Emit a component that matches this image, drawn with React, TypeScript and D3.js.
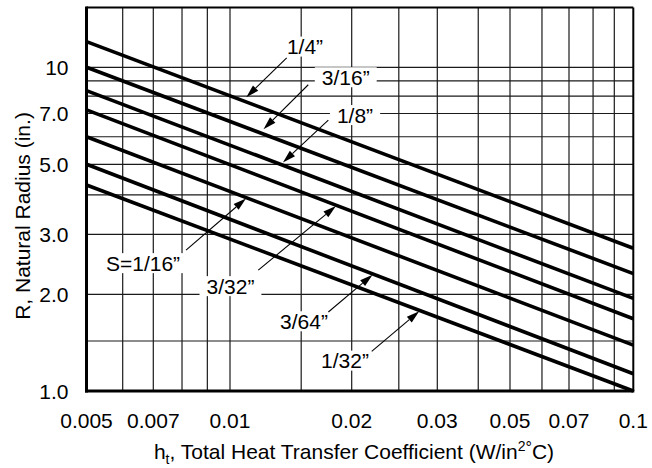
import React, { useEffect, useRef } from "react";
import * as d3 from "d3";

const W = 652;
const H = 468;

// Axis ticks and grid
const xTickValues = [0.005, 0.007, 0.01, 0.02, 0.03, 0.05, 0.07, 0.1];
const xTickLabels = ["0.005", "0.007", "0.01", "0.02", "0.03", "0.05", "0.07", "0.1"];
const xGridValues = [0.006, 0.007, 0.008, 0.009, 0.01, 0.015, 0.02, 0.025, 0.03, 0.04, 0.05, 0.06, 0.07, 0.08, 0.09];
const yTickValues = [1, 2, 3, 5, 7, 10];
const yTickLabels = ["1.0", "2.0", "3.0", "5.0", "7.0", "10"];
const yGridValues = [1.5, 2, 3, 4, 5, 6, 7, 8, 9, 10];
const yDomainTop = 15;

// Series: natural radius R vs total heat transfer coefficient h_t
const seriesNames = ["1/4\u201D", "3/16\u201D", "1/8\u201D", "3/32\u201D", "S=1/16\u201D", "3/64\u201D", "1/32\u201D"];
const hStart = 0.005;
const hEnd = 0.1;
const rAtStart = [11.9, 10, 8.35, 7.2, 6.0, 5.0, 4.3];
const rAtEnd = [2.73, 2.3, 1.95, 1.72, 1.45, 1.15, 1.0];

// Annotation anchors (h where the arrow meets each line)
const annotationH = [0.01075, 0.01186, 0.01335, 0.01836, 0.011, 0.02216, 0.02764];

// Layout (hand-drawn axis calibration, pixels)
const xRange = [86.5, 153.3, 230, 351.7, 437.3, 510, 569, 633.3];
const yCalibDomain = [1, 1.5, 2, 3, 5, 7, 10, yDomainTop];
const yRange = [391, 341, 294.3, 234.3, 164.3, 113.5, 67.3, 7.5];
const annotationLayout = [
  { tail: [44, -42.8], text: [62.3, -54.1], gap: 5 },
  { tail: [48.3, -48], text: [85.8, -55.5], gap: 5 },
  { tail: [47.6, -44.4], text: [74.3, -49.4], gap: 3 },
  { tail: [-78.4, 64.7], text: [-106.2, 80.7], gap: 1 },
  { tail: [-60.7, 52.3], text: [-103.7, 65.3], gap: 1 },
  { tail: [-45, 37.8], text: [-69.3, 47.1], gap: 1 },
  { tail: [-48.3, 40.7], text: [-75, 50], gap: 1 },
];

const FONT = "'Liberation Sans', Arial, Helvetica, sans-serif";
const FS = 21;

export default function App() {
  const ref = useRef<SVGSVGElement | null>(null);

  useEffect(() => {
    const svg = d3.select(ref.current);
    svg.selectAll("*").remove();

    const x = d3.scaleLog().domain(xTickValues).range(xRange);
    const y = d3.scaleLog().domain(yCalibDomain).range(yRange);
    const x0 = x(hStart), x1 = x(hEnd);
    const yTop = y(yDomainTop), yBot = y(1);

    svg.append("rect").attr("width", W).attr("height", H).attr("fill", "#fff");

    const grid = svg.append("g").attr("stroke", "#1a1a1a").attr("stroke-width", 1.2);
    grid.selectAll("line.v").data(xGridValues).join("line")
      .attr("x1", d => x(d)).attr("x2", d => x(d)).attr("y1", yTop).attr("y2", yBot);
    grid.selectAll("line.h").data(yGridValues).join("line")
      .attr("class", "h")
      .attr("y1", d => y(d)).attr("y2", d => y(d)).attr("x1", x0).attr("x2", x1);

    // Borders
    svg.append("line").attr("x1", x0).attr("x2", x1).attr("y1", yTop).attr("y2", yTop).attr("stroke", "#000").attr("stroke-width", 2);
    svg.append("line").attr("x1", x1).attr("x2", x1).attr("y1", yTop).attr("y2", yBot).attr("stroke", "#000").attr("stroke-width", 2);
    svg.append("line").attr("x1", x0).attr("x2", x0).attr("y1", yTop - 1).attr("y2", yBot + 1.5).attr("stroke", "#000").attr("stroke-width", 3);
    svg.append("line").attr("x1", x0 - 1.5).attr("x2", x1 + 1).attr("y1", yBot).attr("y2", yBot).attr("stroke", "#000").attr("stroke-width", 3);

    // Tick labels
    svg.append("g").selectAll("text").data(xTickValues).join("text")
      .attr("x", d => x(d)).attr("y", 427.5)
      .attr("text-anchor", "middle").attr("font-family", FONT).attr("font-size", FS).attr("fill", "#000")
      .text((d, i) => xTickLabels[i]);
    svg.append("g").selectAll("text").data(yTickValues).join("text")
      .attr("x", 68.5).attr("y", d => y(d) + 7.5)
      .attr("text-anchor", "end").attr("font-family", FONT).attr("font-size", FS).attr("fill", "#000")
      .text((d, i) => yTickLabels[i]);

    // Axis titles
    svg.append("text")
      .attr("transform", `translate(30,216) rotate(-90)`)
      .attr("text-anchor", "middle").attr("font-family", FONT).attr("font-size", FS).attr("fill", "#000")
      .text("R, Natural Radius (in.)");
    const xt = svg.append("text")
      .attr("x", 354).attr("y", 459)
      .attr("text-anchor", "middle").attr("font-family", FONT).attr("font-size", FS).attr("fill", "#000");
    xt.append("tspan").text("h");
    xt.append("tspan").attr("font-size", 14).attr("dy", 5).text("t");
    xt.append("tspan").attr("dy", -5).text(", Total Heat Transfer Coefficient (W/in");
    xt.append("tspan").attr("font-size", 14).attr("dy", -8).text("2");
    xt.append("tspan").attr("font-size", 16).attr("dy", 2).text("\u00B0");
    xt.append("tspan").attr("dy", 6).text("C)");

    // Line geometry helpers
    const pts = seriesNames.map((_, i) => [[hStart, rAtStart[i]], [hEnd, rAtEnd[i]]] as [number, number][]);
    const pointOn = (i: number, h: number) => {
      const px = x(h);
      const ya = y(rAtStart[i]), yb = y(rAtEnd[i]);
      const t = (px - x0) / (x1 - x0);
      return [px, ya + (yb - ya) * t];
    };

    // Annotation labels with white backgrounds
    const ann = svg.append("g");
    seriesNames.forEach((name, i) => {
      const [px, py] = pointOn(i, annotationH[i]);
      const L = annotationLayout[i];
      const cx = px + L.text[0], cy = py + L.text[1];
      const rect = ann.append("rect").attr("fill", "#fff");
      const t = ann.append("text")
        .attr("x", cx).attr("y", cy + 7.5)
        .attr("text-anchor", "middle").attr("font-family", FONT).attr("font-size", FS).attr("fill", "#000")
        .text(name);
      const w = (t.node() as SVGTextElement).getComputedTextLength();
      rect.attr("x", cx - w / 2 - 7).attr("y", cy - 10).attr("width", w + 14).attr("height", 20);
    });

    // Data lines
    const line = d3.line<[number, number]>().x(d => x(d[0])).y(d => y(d[1]));
    svg.append("g").selectAll("path").data(pts).join("path")
      .attr("d", d => line(d))
      .attr("fill", "none").attr("stroke", "#000").attr("stroke-width", 3.6).attr("stroke-linecap", "butt");

    // Arrows
    const arr = svg.append("g");
    seriesNames.forEach((_, i) => {
      const [px, py] = pointOn(i, annotationH[i]);
      const L = annotationLayout[i];
      const tx = px + L.tail[0], ty = py + L.tail[1];
      const dx = tx - px, dy = ty - py;
      const len = Math.hypot(dx, dy);
      const ux = dx / len, uy = dy / len;
      const hx = px + ux * L.gap, hy = py + uy * L.gap;
      const headLen = 13, headW = 3.8;
      const bx = hx + ux * headLen, by = hy + uy * headLen;
      arr.append("line").attr("x1", tx).attr("y1", ty).attr("x2", bx).attr("y2", by)
        .attr("stroke", "#000").attr("stroke-width", 1.1);
      arr.append("path")
        .attr("d", `M${hx},${hy}L${bx - uy * headW},${by + ux * headW}L${bx + uy * headW},${by - ux * headW}Z`)
        .attr("fill", "#000");
    });
  }, []);

  return (
    <svg ref={ref} width={W} height={H} style={{ position: "absolute", left: 0, top: 0, display: "block" }} />
  );
}
